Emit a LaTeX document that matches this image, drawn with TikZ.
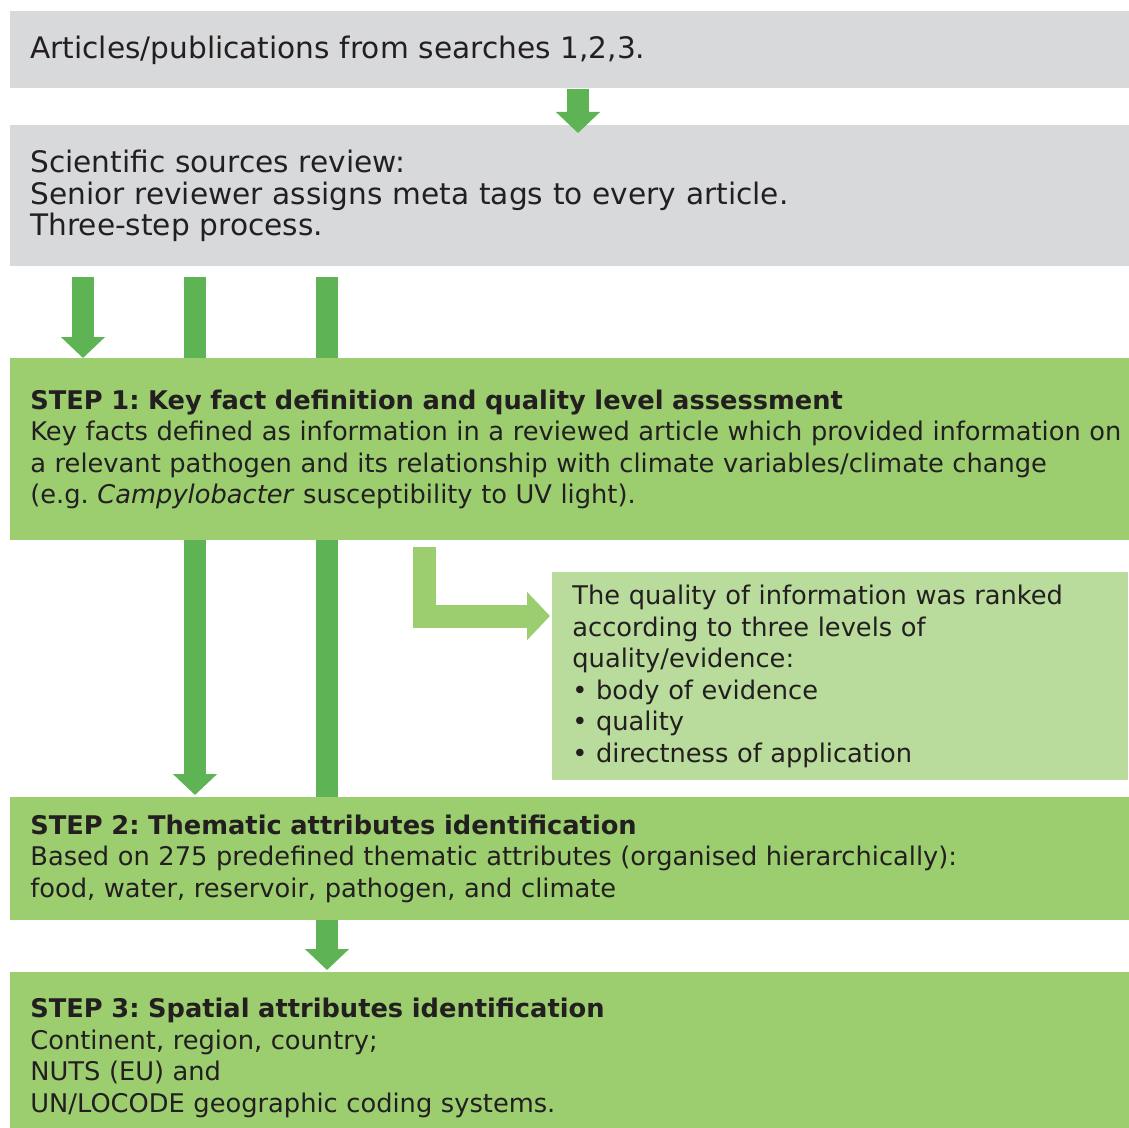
\documentclass[tikz,border=0pt]{standalone}
\usepackage{fontspec}
\setmainfont{DejaVu Sans}[WordSpace=0.8]
\usepackage{tikz}
\usetikzlibrary{arrows.meta}
\pgfdeclarelayer{back}
\pgfsetlayers{back,main}
\frenchspacing

\definecolor{boxgray}{RGB}{216,217,219}
\definecolor{stepgreen}{RGB}{156,205,111}
\definecolor{notegreen}{RGB}{185,219,155}
\definecolor{arrowgreen}{RGB}{94,179,84}
\definecolor{textdark}{RGB}{35,31,32}

\begin{document}
\begin{tikzpicture}[x=0.5pt,y=-0.5pt]
  \tikzset{
    % wide boxes run past the right page edge
    box/.style={anchor=north west, minimum width=559pt, inner xsep=10pt, inner ysep=0pt,
      text width=550pt, align=left, text=textdark, font=\fontsize{12.85}{15.7}\selectfont},
    graybox/.style={box, fill=boxgray, font=\fontsize{14.8}{15.7}\selectfont},
    stepbox/.style={box, fill=stepgreen},
    notebox/.style={box, minimum width=288pt, text width=268pt, fill=notegreen,
      font=\fontsize{12.85}{15.8}\selectfont},
    fat/.style={draw=arrowgreen, line width=11pt, -{Triangle[width=21.5pt,length=10.5pt]}},
    lshape/.style={draw=stepgreen, line width=11.5pt, line join=miter,
      -{Triangle[width=23.5pt,length=11.5pt]}}
  }
  \useasboundingbox (0,0) rectangle (1128,1128);

  \node [graybox, minimum height=38.5pt] (Search) at (10,11)
    {Articles/publications from searches 1,2,3.};
  \node [graybox, minimum height=70.5pt] (Review) at (10,125)
    {Scientific sources review:\\
     Senior reviewer assigns meta tags to every article.\\
     Three-step process.};
  \node [stepbox, minimum height=91pt] (StepOne) at (10,358)
    {\textbf{STEP 1: Key fact definition and quality level assessment}\\
     Key facts defined as information in a reviewed article which provided information on\\
     a relevant pathogen and its relationship with climate variables/climate change\\
     (e.g. \textit{Campylobacter} susceptibility to UV light).};
  \node [notebox, minimum height=104pt] (Quality) at (552,572)
    {The quality of information was ranked\\
     according to three levels of\\
     quality/evidence:\\
     \textbullet\ body of evidence\\
     \textbullet\ quality\\
     \textbullet\ directness of application};
  \node [stepbox, minimum height=61.5pt] (StepTwo) at (10,797)
    {\textbf{STEP 2: Thematic attributes identification}\\
     Based on 275 predefined thematic attributes (organised hierarchically):\\
     food, water, reservoir, pathogen, and climate};
  % runs past the page edge, so the text sits a bit lower
  \node [stepbox, minimum height=85.5pt] (StepThree) at (10,972)
    {\textbf{STEP 3: Spatial attributes identification}\\
     Continent, region, country;\\
     NUTS (EU) and\\
     UN/LOCODE geographic coding systems.};

  \draw [fat] ([xshift=284pt]Search.south west) -- ([xshift=284pt,yshift=-4pt]Review.north west);

  % bars run behind the step boxes
  \begin{pgfonlayer}{back}
    \draw [fat] ([xshift=36.5pt,yshift=-5pt]Review.south west) -- ([xshift=36.5pt]StepOne.north west);
    \draw [fat] ([xshift=92.5pt,yshift=-5pt]Review.south west) -- ([xshift=92.5pt,yshift=1pt]StepTwo.north west);
    \draw [fat] ([xshift=158.5pt,yshift=-5pt]Review.south west) -- ([xshift=158.5pt,yshift=1pt]StepThree.north west);
  \end{pgfonlayer}

  \draw [lshape] ([xshift=207.25pt,yshift=-3pt]StepOne.south west) |- ([xshift=-1pt,yshift=-22pt]Quality.north west);
\end{tikzpicture}
\end{document}
